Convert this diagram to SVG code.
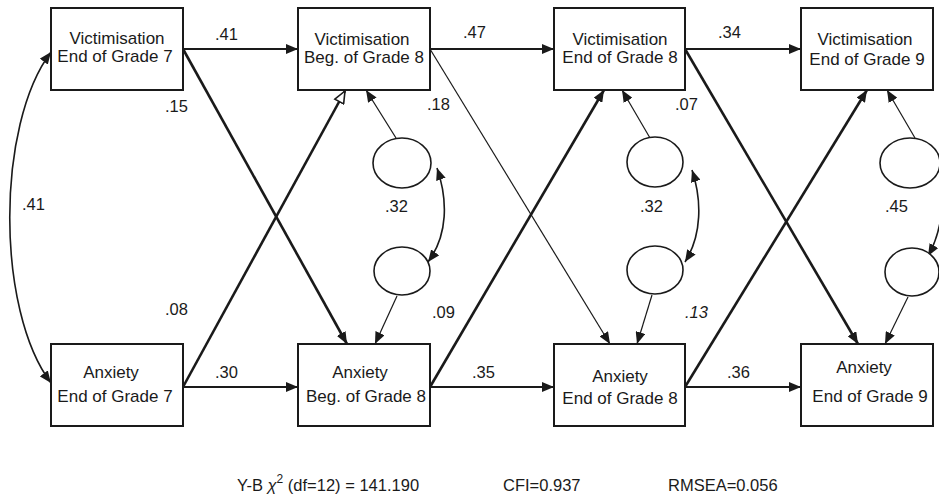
<svg xmlns="http://www.w3.org/2000/svg" width="939" height="499" viewBox="0 0 939 499">
<style>
.box{fill:#fff;stroke:#1a1a1a;stroke-width:2}
.t{font-family:"Liberation Sans",Arial,sans-serif;font-size:17px;fill:#1a1a1a;text-anchor:middle}
.lbl{font-family:"Liberation Sans",Arial,sans-serif;font-size:16.5px;fill:#1a1a1a}
.ln{fill:none;stroke:#1a1a1a}
.thick{stroke-width:2.6;marker-end:url(#ah)}
.thin{stroke-width:1.2;marker-end:url(#ah)}
.hz{stroke-width:2.2;marker-end:url(#ah)}
.cov{stroke-width:1.6;marker-start:url(#ah2);marker-end:url(#ah2)}
.res{fill:#fff;stroke:#1a1a1a;stroke-width:1.6}
</style>
<defs>
<marker id="ah" markerUnits="userSpaceOnUse" viewBox="0 0 12 10" refX="12" refY="5" markerWidth="12" markerHeight="10" orient="auto">
<path d="M0,0 L12,5 L0,10 Z" fill="#1a1a1a"/>
</marker>
<marker id="ah2" markerUnits="userSpaceOnUse" viewBox="0 0 12 10" refX="12" refY="5" markerWidth="12" markerHeight="10" orient="auto-start-reverse">
<path d="M0,0 L12,5 L0,10 Z" fill="#1a1a1a"/>
</marker>
<marker id="ahOpen" markerUnits="userSpaceOnUse" viewBox="-1 -1 14 12" refX="12" refY="5" markerWidth="14" markerHeight="12" orient="auto">
<path d="M0,0 L12,5 L0,10 Z" fill="#fff" stroke="#1a1a1a" stroke-width="1.6"/>
</marker>
</defs>
<rect width="939" height="499" fill="#fff"/>

<g id="connectors">
<line class="ln hz" x1="183" y1="49" x2="298" y2="49"/>
<line class="ln hz" x1="430" y1="49" x2="554" y2="49"/>
<line class="ln hz" x1="685" y1="49" x2="801" y2="49"/>
<line class="ln hz" x1="183" y1="387" x2="298" y2="387"/>
<line class="ln hz" x1="430" y1="387" x2="554" y2="387"/>
<line class="ln hz" x1="685" y1="387" x2="801" y2="387"/>
<line class="ln thick" x1="183" y1="49" x2="347" y2="344"/>
<line class="ln" stroke-width="2.6" x1="183" y1="387" x2="345" y2="91" marker-end="url(#ahOpen)"/>
<line class="ln thin" x1="430" y1="49" x2="610" y2="344"/>
<line class="ln thick" x1="430" y1="387" x2="604" y2="90"/>
<line class="ln thick" x1="685" y1="49" x2="858" y2="344"/>
<line class="ln thick" x1="685" y1="387" x2="867" y2="90"/>
<line class="ln thin" x1="396" y1="138" x2="366" y2="90"/>
<line class="ln thin" x1="397" y1="296" x2="375" y2="344"/>
<line class="ln thin" x1="650" y1="138" x2="622" y2="90"/>
<line class="ln thin" x1="652" y1="295" x2="637" y2="344"/>
<line class="ln thin" x1="915" y1="138" x2="887" y2="90"/>
<line class="ln thin" x1="908" y1="297" x2="885" y2="344"/>
<path class="ln cov" d="M51,52 C-4,125 -4,310 51,383"/>
<path class="ln cov" d="M437,168 C448,200 448,235 428,262"/>
<path class="ln cov" d="M692,170 C702,200 702,235 685,262"/>
<path class="ln cov" d="M938,158 C946,190 944,228 928,256"/>
</g>

<g id="res-b8-v"><ellipse class="res" cx="402" cy="163" rx="29" ry="25"/></g>
<g id="res-b8-a"><ellipse class="res" cx="402" cy="271" rx="28" ry="24"/></g>
<g id="res-e8-v"><ellipse class="res" cx="655" cy="162" rx="28" ry="25"/></g>
<g id="res-e8-a"><ellipse class="res" cx="655" cy="270" rx="28" ry="24"/></g>
<g id="res-e9-v"><ellipse class="res" cx="910" cy="163" rx="30" ry="25"/></g>
<g id="res-e9-a"><ellipse class="res" cx="912" cy="272" rx="27" ry="24"/></g>

<g id="vic-e7">
<rect class="box" x="51" y="8" width="132" height="82"/>
<text class="t" x="117" y="44">Victimisation</text>
<text class="t" x="115" y="62">End of Grade 7</text>
</g>
<g id="vic-b8">
<rect class="box" x="298" y="8" width="132" height="82"/>
<text class="t" x="362" y="45">Victimisation</text>
<text class="t" x="364" y="63">Beg. of Grade 8</text>
</g>
<g id="vic-e8">
<rect class="box" x="554" y="8" width="131" height="82"/>
<text class="t" x="620" y="45">Victimisation</text>
<text class="t" x="620" y="63">End of Grade 8</text>
</g>
<g id="vic-e9">
<rect class="box" x="801" y="8" width="132" height="82"/>
<text class="t" x="865" y="45">Victimisation</text>
<text class="t" x="867" y="65">End of Grade 9</text>
</g>
<g id="anx-e7">
<rect class="box" x="51" y="344" width="132" height="82"/>
<text class="t" x="111" y="378">Anxiety</text>
<text class="t" x="115" y="402">End of Grade 7</text>
</g>
<g id="anx-b8">
<rect class="box" x="298" y="344" width="132" height="82"/>
<text class="t" x="360" y="378">Anxiety</text>
<text class="t" x="366" y="402">Beg. of Grade 8</text>
</g>
<g id="anx-e8">
<rect class="box" x="554" y="344" width="131" height="82"/>
<text class="t" x="620" y="382">Anxiety</text>
<text class="t" x="620" y="404">End of Grade 8</text>
</g>
<g id="anx-e9">
<rect class="box" x="801" y="344" width="132" height="82"/>
<text class="t" x="864" y="373">Anxiety</text>
<text class="t" x="870" y="402">End of Grade 9</text>
</g>

<g id="labels">
<text class="lbl" x="215" y="40">.41</text>
<text class="lbl" x="463" y="38">.47</text>
<text class="lbl" x="718" y="38">.34</text>
<text class="lbl" x="215" y="378">.30</text>
<text class="lbl" x="472" y="378">.35</text>
<text class="lbl" x="727" y="378">.36</text>
<text class="lbl" x="165" y="112">.15</text>
<text class="lbl" x="165" y="315">.08</text>
<text class="lbl" x="427" y="110">.18</text>
<text class="lbl" x="432" y="318">.09</text>
<text class="lbl" x="675" y="110">.07</text>
<text class="lbl" x="685" y="318" font-style="italic">.13</text>
<text class="lbl" x="385" y="212">.32</text>
<text class="lbl" x="640" y="212">.32</text>
<text class="lbl" x="885" y="212">.45</text>
<text class="lbl" x="22" y="210">.41</text>
</g>

<g id="fit">
<text class="lbl" x="237" y="491" font-size="17">Y-B <tspan font-style="italic">χ</tspan><tspan dy="-8" font-size="12">2</tspan><tspan dy="8"> (df=12) = 141.190</tspan></text>
<text class="lbl" x="503" y="491" font-size="17">CFI=0.937</text>
<text class="lbl" x="668" y="491" font-size="17">RMSEA=0.056</text>
</g>
</svg>
